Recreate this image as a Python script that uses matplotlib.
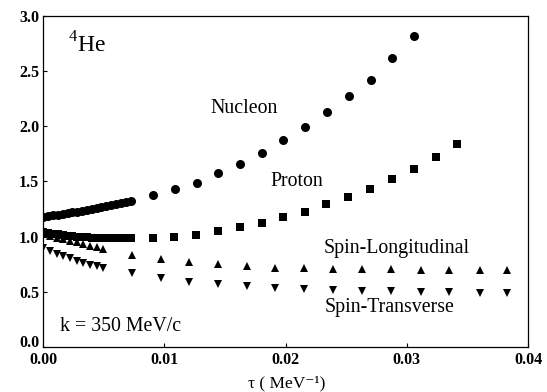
import matplotlib
matplotlib.use("Agg")
import matplotlib.pyplot as plt
from matplotlib.transforms import ScaledTranslation

plt.rcParams['font.family'] = ['Liberation Serif', 'DejaVu Serif']
plt.rcParams['mathtext.fontset'] = 'custom'
plt.rcParams['mathtext.rm'] = 'Liberation Serif'

# Dense part of the curves (small tau)
tau_dense = [0.0000, 0.0004, 0.0008, 0.0012, 0.0016, 0.0020, 0.0024, 0.0028, 0.0032, 0.0036,
             0.0040, 0.0044, 0.0048, 0.0052, 0.0056, 0.0060, 0.0064, 0.0068, 0.0072]
nucleon_dense = [1.180, 1.186, 1.192, 1.198, 1.205, 1.212, 1.219, 1.226, 1.233, 1.241,
                 1.249, 1.257, 1.265, 1.274, 1.283, 1.292, 1.302, 1.312, 1.322]
proton_dense = [1.045, 1.036, 1.028, 1.021, 1.014, 1.008, 1.003, 0.999, 0.995, 0.992,
                0.990, 0.988, 0.987, 0.986, 0.986, 0.986, 0.986, 0.987, 0.988]

tau_spin_dense = [0.0000, 0.00055, 0.0011, 0.00165, 0.0022, 0.00275, 0.0033, 0.00385, 0.0044, 0.0049]
long_dense = [1.020, 1.005, 0.990, 0.975, 0.962, 0.948, 0.934, 0.918, 0.902, 0.886]
trans_dense = [0.894, 0.868, 0.845, 0.823, 0.803, 0.783, 0.765, 0.747, 0.730, 0.714]

# Sparse part (larger tau)
tau_nucleon = [0.00907, 0.01086, 0.01265, 0.01443, 0.01622, 0.01803, 0.0198, 0.02162,
               0.02343, 0.0252, 0.02701, 0.0288, 0.03059]
nucleon = [1.374, 1.431, 1.488, 1.573, 1.658, 1.757, 1.875, 1.993, 2.129, 2.274, 2.416, 2.618, 2.817]

tau_proton = [0.00902, 0.0108, 0.01259, 0.01438, 0.01622, 0.01803, 0.01979, 0.02163,
              0.02336, 0.02514, 0.02699, 0.0288, 0.03056, 0.03237, 0.03416]
proton = [0.990, 0.999, 1.017, 1.051, 1.084, 1.123, 1.180, 1.226, 1.295, 1.361,
          1.428, 1.519, 1.610, 1.721, 1.836]

tau_spin = [0.00729, 0.0097, 0.0120, 0.0144, 0.0168, 0.0191, 0.0215, 0.0239, 0.0263,
            0.0287, 0.0312, 0.0335, 0.0360, 0.0383]
spin_long = [0.833, 0.794, 0.767, 0.749, 0.734, 0.718, 0.712, 0.708, 0.705, 0.703,
             0.700, 0.699, 0.698, 0.697]
spin_trans = [0.668, 0.622, 0.591, 0.571, 0.553, 0.537, 0.525, 0.516, 0.509, 0.503,
              0.499, 0.496, 0.493, 0.491]

fig = plt.figure(figsize=(5.47, 3.92), dpi=100)
ax = fig.add_axes([0.0792, 0.1148, 0.8861, 0.8449])

# Draw markers
ax.plot(tau_dense, nucleon_dense, 'o', color='black', ms=6.5, mew=0)
ax.plot(tau_nucleon, nucleon, 'o', color='black', ms=6.5, mew=0)
ax.plot(tau_dense, proton_dense, 's', color='black', ms=5.2, mew=0)
ax.plot(tau_proton, proton, 's', color='black', ms=5.2, mew=0)
ax.plot(tau_spin_dense, long_dense, '^', color='black', ms=5.8, mew=0)
ax.plot(tau_spin, spin_long, '^', color='black', ms=5.8, mew=0)
ax.plot(tau_spin_dense, trans_dense, 'v', color='black', ms=5.8, mew=0)
ax.plot(tau_spin, spin_trans, 'v', color='black', ms=5.8, mew=0)

# Labels inside the plot
ax.text(0.0020, 2.74, r'$^{4}$He', fontsize=17, va='center')
ax.text(0.0166, 2.16, 'Nucleon', fontsize=14.3, ha='center', va='center')
ax.text(0.0209, 1.50, 'Proton', fontsize=14.3, ha='center', va='center')
ax.text(0.0292, 0.89, 'Spin-Longitudinal', fontsize=14.3, ha='center', va='center')
ax.text(0.0286, 0.36, 'Spin-Transverse', fontsize=14.3, ha='center', va='center')
ax.text(0.0014, 0.19, 'k = 350 MeV/c', fontsize=14.3, va='center')

# Format axes
ax.set_xlim(0, 0.04)
ax.set_ylim(0, 3.0)
ax.set_xticks([0.00, 0.01, 0.02, 0.03, 0.04])
ax.set_xticklabels(['0.00', '0.01', '0.02', '0.03', '0.04'])
ax.set_yticks([0.0, 0.5, 1.0, 1.5, 2.0, 2.5, 3.0])
ax.set_yticklabels(['0.0', '0.5', '1.0', '1.5', '2.0', '2.5', '3.0'])
ax.tick_params(direction='in', length=3, width=0.8, labelsize=11.5)
ax.tick_params(axis='x', pad=3.5)
ax.tick_params(axis='y', pad=3)
for lab in ax.get_xticklabels() + ax.get_yticklabels():
    lab.set_fontweight('bold')

# nudge the "0.0" label up a little so it clears "0.00"
zero_lab = ax.yaxis.get_major_ticks()[0].label1
zero_lab.set_transform(zero_lab.get_transform() + ScaledTranslation(0, 4 / 72, fig.dpi_scale_trans))

# x label placed by hand just above the bottom edge
fig.text(0.524, 0.002, 'τ ( MeV⁻¹)', fontsize=12.5, ha='center', va='bottom')
for sp in ax.spines.values():
    sp.set_linewidth(0.9)

fig.savefig('out.png', dpi=100)
